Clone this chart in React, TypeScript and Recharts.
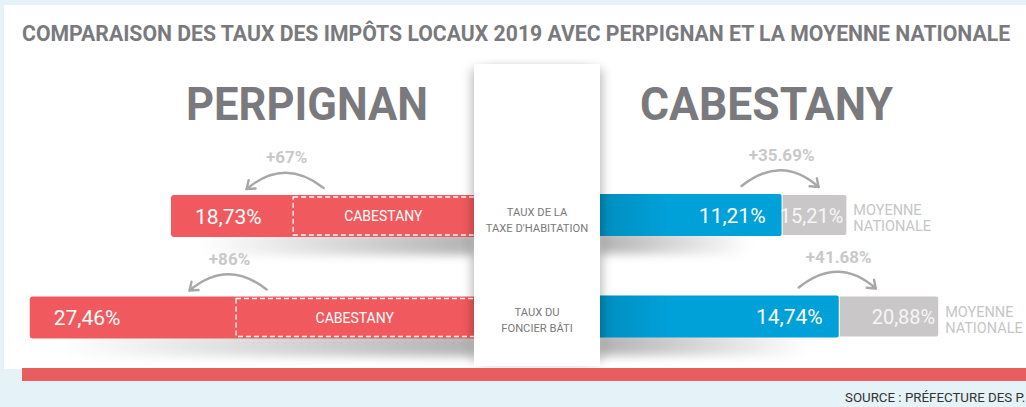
// @ts-nocheck
import { BarChart, Bar, XAxis, YAxis } from 'recharts';

const rows = ["TAXE D'HABITATION", 'FONCIER BÂTI'];
const rowLabels = [['TAUX DE LA', "TAXE D'HABITATION"], ['TAUX DU', 'FONCIER BÂTI']];
const perpignan = [18.73, 27.46];
const cabestany = [11.21, 14.74];
const nationale = [15.21, 20.88];
const perpignanGap = ['+67%', '+86%'];
const nationaleGap = ['+35.69%', '+41.68%'];

const RED = '#f05a5e';
const BLUE = '#00a1d9';
const GREY = '#c9c7c8';
const TITLE = '#7a7a7e';
const FONT = 'Roboto, "Noto Sans", sans-serif';

const data = rows.map((row, i) => ({
  row,
  perpignan: perpignan[i],
  cabestany: cabestany[i],
  ecart: +(nationale[i] - cabestany[i]).toFixed(2),
  nationale: nationale[i],
  perpignanGap: perpignanGap[i],
  nationaleGap: nationaleGap[i],
}));

const fmt = (v: number) => `${v.toFixed(2).replace('.', ',')}%`;

// bars on a reversed axis may come with a negative width
const norm = (p) => ({
  x0: Math.min(p.x, p.x + p.width),
  w: Math.abs(p.width),
  y: p.y,
  h: p.height,
});

function Arrow({ x1, y1, cx, cy, x2, y2 }) {
  const ang = Math.atan2(y2 - cy, x2 - cx);
  const L = 9;
  const a1 = ang + Math.PI - 0.65;
  const a2 = ang + Math.PI + 0.65;
  return (
    <g stroke="#a8a8a8" strokeWidth={2.4} fill="none" strokeLinecap="round" strokeLinejoin="round">
      <path d={`M${x1},${y1} Q${cx},${cy} ${x2},${y2}`} />
      <path
        d={`M${x2 + L * Math.cos(a1)},${y2 + L * Math.sin(a1)} L${x2},${y2} L${x2 + L * Math.cos(a2)},${y2 + L * Math.sin(a2)}`}
      />
    </g>
  );
}

function PerpignanBar(props) {
  const { x0, w, y, h } = norm(props);
  const r = 3;
  const right = x0 + w;
  return (
    <g>
      <rect x={x0 + 30} y={y + h - 6} width={Math.max(w - 30, 0)} height={24} fill="url(#shadeL)" filter="url(#blurL)" />
      <path
        d={`M${right},${y} H${x0 + r} Q${x0},${y} ${x0},${y + r} V${y + h - r} Q${x0},${y + h} ${x0 + r},${y + h} H${right} Z`}
        fill={RED}
      />
      <text x={x0 + 24} y={y + h / 2 + 7.5} fill="#fff" fontSize={21} fontFamily={FONT}>
        {fmt(props.payload.perpignan)}
      </text>
    </g>
  );
}

function CabestanyBox(props) {
  const { x0, w, y, h } = norm(props);
  return (
    <g>
      <rect x={x0 + 0.5} y={y} width={w + 6} height={h} fill="none" stroke="#fff" strokeWidth={1.3} strokeDasharray="5 3" />
      <text x={x0 + w / 2} y={y + h / 2 + 5} textAnchor="middle" fill="#fff" fontSize={14} fontFamily={FONT}>
        CABESTANY
      </text>
      <Arrow x1={x0 + 31} y1={y - 9} cx={x0 - 8} cy={y - 40} x2={x0 - 46} y2={y - 8} />
      <text x={x0 - 6} y={y - 34} textAnchor="middle" fill="#c9c9c9" fontSize={17} fontWeight="bold" fontFamily={FONT}>
        {props.payload.perpignanGap}
      </text>
    </g>
  );
}

function CabestanyBar(props) {
  const { x0, w, y, h } = norm(props);
  const r = 2;
  return (
    <g>
      <rect x={x0} y={y + h - 6} width={Math.max(w - 30, 0)} height={24} fill="url(#shadeR)" filter="url(#blurR)" />
      <path
        d={`M${x0},${y} H${x0 + w - r} Q${x0 + w},${y} ${x0 + w},${y + r} V${y + h - r} Q${x0 + w},${y + h} ${x0 + w - r},${y + h} H${x0} Z`}
        fill={BLUE}
      />
      <rect x={x0} y={y} width={Math.min(70, w)} height={h} fill="url(#edgeR)" />
      <text x={x0 + w - 16} y={y + h / 2 + 7.5} textAnchor="end" fill="#fff" fontSize={21} fontFamily={FONT}>
        {fmt(props.payload.cabestany)}
      </text>
    </g>
  );
}

function NationaleBar(props) {
  const { x0, w, y, h } = norm(props);
  const p = props.payload;
  const r = 2;
  const top = y + 1;
  const bot = y + h - 1;
  return (
    <g>
      <path
        d={`M${x0 + 1},${top} H${x0 + w - r} Q${x0 + w},${top} ${x0 + w},${top + r} V${bot - r} Q${x0 + w},${bot} ${x0 + w - r},${bot} H${x0 + 1} Z`}
        fill={GREY}
      />
      <text x={x0 + w - 3} y={y + h / 2 + 7.5} textAnchor="end" fill="#f6f6f6" fontSize={20} fontFamily={FONT}>
        {fmt(p.nationale)}
      </text>
      <text x={x0 + w + 7} y={y + h / 2} fill="#c6c6c6" fontSize={14.5} fontFamily={FONT}>
        <tspan>MOYENNE</tspan>
        <tspan x={x0 + w + 7} dy={16}>NATIONALE</tspan>
      </text>
      <Arrow x1={x0 - 40} y1={y - 8} cx={x0} cy={y - 40} x2={x0 + 37} y2={y - 7} />
      <text x={x0} y={y - 33} textAnchor="middle" fill="#c9c9c9" fontSize={17} fontWeight="bold" fontFamily={FONT}>
        {p.nationaleGap}
      </text>
    </g>
  );
}

export default function App() {
  return (
    <div
      style={{
        position: 'absolute',
        left: 0,
        top: 0,
        width: 1026,
        height: 407,
        background: '#e5f2f7',
        overflow: 'hidden',
        fontFamily: FONT,
      }}
    >
      <div style={{ position: 'absolute', left: 4, top: 5, width: 1022, height: 364, background: '#fff' }} />

      <div style={{ position: 'absolute', left: 0, top: 0 }}>
        <BarChart width={474} height={368} data={data} layout="vertical" margin={{ top: 165, right: 0, bottom: 0, left: 0 }}>
          <defs>
            <filter id="blurL" x="-20%" y="-150%" width="140%" height="400%">
              <feGaussianBlur stdDeviation={5} />
            </filter>
            <linearGradient id="shadeL" x1="0" y1="0" x2="1" y2="0">
              <stop offset="0%" stopColor="#000" stopOpacity={0} />
              <stop offset="100%" stopColor="#000" stopOpacity={0.3} />
            </linearGradient>
          </defs>
          <XAxis type="number" domain={[0, 29.3]} reversed hide />
          <YAxis yAxisId="a" type="category" dataKey="row" hide />
          <YAxis yAxisId="b" type="category" dataKey="row" hide />
          <Bar yAxisId="a" dataKey="perpignan" barSize={42} shape={PerpignanBar} isAnimationActive={false} />
          <Bar yAxisId="b" dataKey="cabestany" barSize={38} shape={CabestanyBox} isAnimationActive={false} />
        </BarChart>
      </div>

      <div style={{ position: 'absolute', left: 600, top: -1 }}>
        <BarChart width={426} height={368} data={data} layout="vertical" margin={{ top: 165, right: 0, bottom: 0, left: 0 }}>
          <defs>
            <filter id="blurR" x="-20%" y="-150%" width="140%" height="400%">
              <feGaussianBlur stdDeviation={5} />
            </filter>
            <linearGradient id="shadeR" x1="0" y1="0" x2="1" y2="0">
              <stop offset="0%" stopColor="#000" stopOpacity={0.3} />
              <stop offset="100%" stopColor="#000" stopOpacity={0} />
            </linearGradient>
            <linearGradient id="edgeR" x1="0" y1="0" x2="1" y2="0">
              <stop offset="0%" stopColor="#000" stopOpacity={0.12} />
              <stop offset="100%" stopColor="#000" stopOpacity={0} />
            </linearGradient>
          </defs>
          <XAxis type="number" domain={[0, 26.3]} hide />
          <YAxis type="category" dataKey="row" hide />
          <Bar dataKey="cabestany" stackId="r" barSize={42} shape={CabestanyBar} isAnimationActive={false} />
          <Bar dataKey="ecart" stackId="r" barSize={42} shape={NationaleBar} isAnimationActive={false} />
        </BarChart>
      </div>

      {/* central column with the row names */}
      <div
        style={{
          position: 'absolute',
          left: 474,
          top: 64,
          width: 126,
          height: 302,
          background: '#fff',
          boxShadow: '-7px 0 10px -5px rgba(0,0,0,0.28), 7px 0 10px -5px rgba(0,0,0,0.28)',
        }}
      >
        {rowLabels.map((lines, i) => (
          <div
            key={i}
            style={{
              position: 'absolute',
              left: 0,
              width: 126,
              top: i === 0 ? 141 : 241,
              textAlign: 'center',
              fontSize: 11.2,
              lineHeight: '15.5px',
              color: '#7a7a7a',
            }}
          >
            {lines.map((l) => (
              <div key={l}>{l}</div>
            ))}
          </div>
        ))}
      </div>

      <div style={{ position: 'absolute', left: 22, top: 368, width: 1004, height: 13, background: '#e85d5d' }} />

      <svg width={1026} height={407} style={{ position: 'absolute', left: 0, top: 0, pointerEvents: 'none' }}>
        <text
          transform="translate(22,41) scale(0.9,1)"
          fontSize={22}
          fontWeight="bold"
          fill={TITLE}
          fontFamily={FONT}
          textLength={1098}
          lengthAdjust="spacingAndGlyphs"
        >
          COMPARAISON DES TAUX DES IMPÔTS LOCAUX 2019 AVEC PERPIGNAN ET LA MOYENNE NATIONALE
        </text>
        <text x={186} y={120} fontSize={46} fontWeight="bold" fill={TITLE} fontFamily={FONT} textLength={242} lengthAdjust="spacingAndGlyphs">
          PERPIGNAN
        </text>
        <text x={640} y={120} fontSize={46} fontWeight="bold" fill={TITLE} fontFamily={FONT} textLength={253} lengthAdjust="spacingAndGlyphs">
          CABESTANY
        </text>
        <text x={845} y={402} fontSize={13.3} fill="#333" fontFamily={FONT}>
          SOURCE : PRÉFECTURE DES P.
        </text>
      </svg>
    </div>
  );
}
